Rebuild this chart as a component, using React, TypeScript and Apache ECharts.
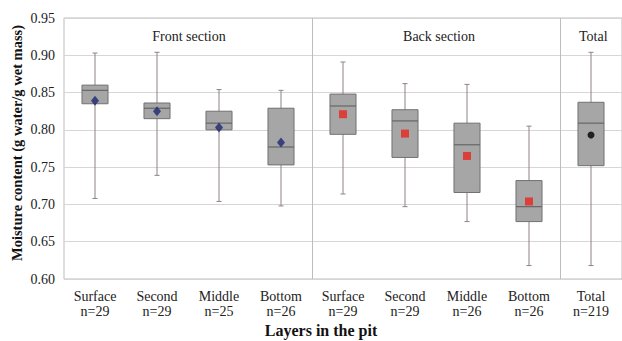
import React, { useEffect, useRef } from "react";
import * as echarts from "echarts";

// Layer names and sample sizes along the pit
const layers = ["Surface", "Second", "Middle", "Bottom", "Surface", "Second", "Middle", "Bottom", "Total"];
const counts = [29, 29, 25, 26, 29, 29, 26, 26, 219];

// Five-number summaries per layer (g water / g wet mass)
const whiskerLow = [0.708, 0.739, 0.704, 0.698, 0.714, 0.697, 0.677, 0.618, 0.618];
const quartile1 = [0.835, 0.815, 0.8, 0.753, 0.794, 0.763, 0.716, 0.677, 0.752];
const medians = [0.853, 0.829, 0.809, 0.777, 0.832, 0.812, 0.78, 0.697, 0.809];
const quartile3 = [0.86, 0.836, 0.825, 0.829, 0.848, 0.827, 0.809, 0.732, 0.837];
const whiskerHigh = [0.903, 0.904, 0.854, 0.853, 0.891, 0.862, 0.861, 0.805, 0.904];

// Layer means
const means = [0.839, 0.825, 0.803, 0.783, 0.821, 0.795, 0.765, 0.704, 0.793];

// Section headings and the categories they cover
const sections = ["Front section", "Back section", "Total"];
const sectionSpans = [[0, 3], [4, 7], [8, 8]];
const yTicks = [0.6, 0.65, 0.7, 0.75, 0.8, 0.85, 0.9, 0.95];

const SERIF = "Liberation Serif";

export default function App() {
  const ref = useRef<HTMLDivElement>(null);

  useEffect(() => {
    if (!ref.current) return;
    const chart = echarts.init(ref.current, undefined, { renderer: "svg" });

    const categories = layers.map((l, i) => `${l}\nn=${counts[i]}`);
    const boxData = layers.map((_, i) => [i, whiskerLow[i], quartile1[i], medians[i], quartile3[i], whiskerHigh[i]]);

    const gridLeft = 64;
    const gridTop = 18;
    const gridWidth = 562.5;
    const gridHeight = 261;
    const band = gridWidth / layers.length;

    const renderBox = (params: any, api: any) => {
      const idx = api.value(0);
      const x = api.coord([idx, 0])[0];
      const yLo = api.coord([idx, api.value(1)])[1];
      const yQ1 = api.coord([idx, api.value(2)])[1];
      const yMed = api.coord([idx, api.value(3)])[1];
      const yQ3 = api.coord([idx, api.value(4)])[1];
      const yHi = api.coord([idx, api.value(5)])[1];
      const w = api.size([1, 0])[0] * 0.42;
      const cap = 2.5;
      const whisker = { stroke: "#8e8282", lineWidth: 1 };
      return {
        type: "group",
        children: [
          { type: "line", shape: { x1: x, y1: yHi, x2: x, y2: yLo }, style: whisker },
          { type: "line", shape: { x1: x - cap, y1: yHi, x2: x + cap, y2: yHi }, style: whisker },
          { type: "line", shape: { x1: x - cap, y1: yLo, x2: x + cap, y2: yLo }, style: whisker },
          {
            type: "rect",
            shape: { x: x - w / 2, y: yQ3, width: w, height: yQ1 - yQ3 },
            style: { fill: "#a6a6a6", stroke: "#717171", lineWidth: 1 },
          },
          {
            type: "line",
            shape: { x1: x - w / 2, y1: yMed, x2: x + w / 2, y2: yMed },
            style: { stroke: "#666666", lineWidth: 1.2 },
          },
        ],
      };
    };

    const meanPoints = (from: number, to: number) =>
      means.map((m, i) => [i, m]).filter((d) => d[0] >= from && d[0] <= to);

    chart.setOption({
      animation: false,
      backgroundColor: "#ffffff",
      grid: {
        left: gridLeft,
        top: gridTop,
        width: gridWidth,
        height: gridHeight,
        show: true,
        borderColor: "#bdbdbd",
        borderWidth: 1,
      },
      xAxis: {
        type: "category",
        data: categories,
        boundaryGap: true,
        axisLine: { show: false },
        axisTick: { show: false },
        splitLine: {
          show: true,
          interval: (index: number) => index === 4 || index === 8,
          lineStyle: { color: "#bdbdbd", width: 1 },
        },
        axisLabel: {
          interval: 0,
          margin: 10,
          fontFamily: SERIF,
          fontSize: 14,
          lineHeight: 15,
          color: "#222222",
        },
      },
      yAxis: {
        type: "value",
        min: yTicks[0],
        max: yTicks[yTicks.length - 1],
        interval: 0.05,
        axisLine: { show: false },
        axisTick: { show: false },
        splitLine: { lineStyle: { color: "#d6d6d6", width: 1 } },
        axisLabel: {
          margin: 9,
          fontFamily: SERIF,
          fontSize: 14,
          color: "#222222",
          formatter: (v: number) => v.toFixed(2),
        },
      },
      series: [
        {
          type: "custom",
          renderItem: renderBox,
          data: boxData,
          encode: { x: 0, y: [1, 2, 3, 4, 5] },
          z: 2,
        },
        {
          type: "scatter",
          data: meanPoints(0, 3),
          symbol: "diamond",
          symbolSize: [8, 10],
          itemStyle: { color: "#1d2870" },
          z: 3,
        },
        {
          type: "scatter",
          data: meanPoints(4, 7),
          symbol: "rect",
          symbolSize: 8,
          itemStyle: { color: "#e8261f" },
          z: 3,
        },
        {
          type: "scatter",
          data: meanPoints(8, 8),
          symbol: "circle",
          symbolSize: 7,
          itemStyle: { color: "#000000" },
          z: 3,
        },
      ],
      graphic: [
        ...sections.map((name, i) => {
          const [a, b] = sectionSpans[i];
          const cx = gridLeft + band * ((a + b) / 2 + 0.5) + (i === 2 ? -2 : 0);
          return {
            type: "text",
            x: cx,
            y: 36,
            style: {
              text: name,
              fontFamily: SERIF,
              fontSize: 14,
              fill: "#222222",
              textAlign: "center",
              textVerticalAlign: "middle",
            },
          };
        }),
        {
          type: "text",
          x: 321,
          y: 330,
          style: {
            text: "Layers in the pit",
            fontFamily: SERIF,
            fontSize: 16,
            fontWeight: "bold",
            fill: "#111111",
            textAlign: "center",
            textVerticalAlign: "middle",
          },
        },
        {
          type: "text",
          x: 17,
          y: 143,
          rotation: Math.PI / 2,
          style: {
            text: "Moisture content (g water/g wet mass)",
            fontFamily: SERIF,
            fontSize: 14.5,
            fontWeight: "bold",
            fill: "#111111",
            textAlign: "center",
            textVerticalAlign: "middle",
          },
        },
      ],
    });

    return () => chart.dispose();
  }, []);

  return (
    <div
      ref={ref}
      style={{ position: "absolute", left: 0, top: 0, width: 622, height: 341, background: "#ffffff" }}
    />
  );
}
